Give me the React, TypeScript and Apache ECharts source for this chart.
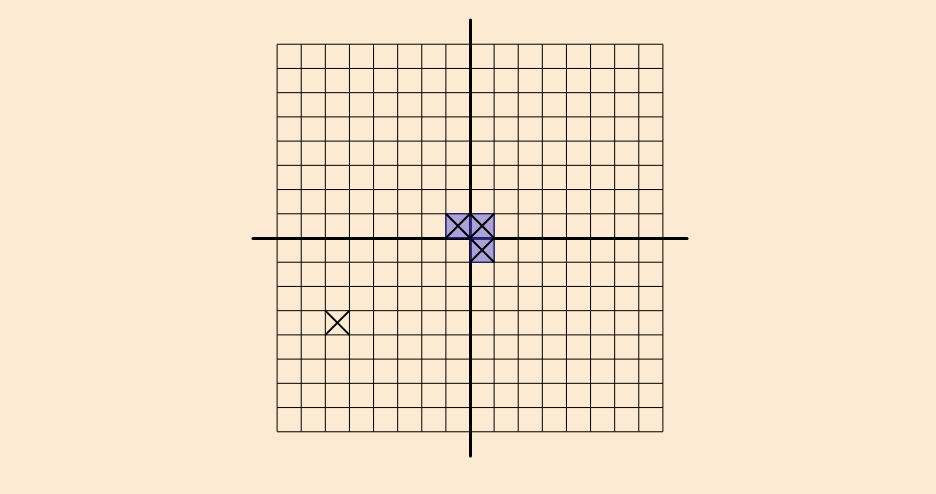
import React, { useEffect, useRef } from "react";
import * as echarts from "echarts";

// Grid line positions (cell boundaries)
const gridTicks = [-8, -7, -6, -5, -4, -3, -2, -1, 0, 1, 2, 3, 4, 5, 6, 7, 8];
// Lower-left corners of shaded cells
const filledCells = [
  [-1, 0],
  [0, 0],
  [0, -1],
];
// Lower-left corners of cells marked with a cross
const crossCells = [
  [-1, 0],
  [0, 0],
  [0, -1],
  [-6, -4],
];
const axisMin = -9;
const axisMax = 9;

export default function App() {
  const ref = useRef<HTMLDivElement>(null);
  useEffect(() => {
    if (!ref.current) return;
    const chart = echarts.init(ref.current, undefined, { renderer: "svg" });
    const gMin = gridTicks[0];
    const gMax = gridTicks[gridTicks.length - 1];
    chart.setOption({
      animation: false,
      backgroundColor: "#FCEAD2",
      grid: { left: 253, right: 249, top: 20, bottom: 38 },
      xAxis: {
        type: "value",
        min: axisMin,
        max: axisMax,
        axisLine: { show: true, onZero: true, lineStyle: { color: "#000", width: 3 } },
        axisTick: { show: false },
        axisLabel: { show: false },
        splitLine: { show: false },
      },
      yAxis: {
        type: "value",
        min: axisMin,
        max: axisMax,
        axisLine: { show: true, onZero: true, lineStyle: { color: "#000", width: 3 } },
        axisTick: { show: false },
        axisLabel: { show: false },
        splitLine: { show: false },
      },
      series: [
        {
          type: "custom",
          z: 1,
          silent: true,
          data: gridTicks.map((t) => [t]),
          renderItem: (params: any, api: any) => {
            const t = api.value(0);
            const v1 = api.coord([t, gMin]);
            const v2 = api.coord([t, gMax]);
            const h1 = api.coord([gMin, t]);
            const h2 = api.coord([gMax, t]);
            const style = { stroke: "#000", lineWidth: 1 };
            return {
              type: "group",
              children: [
                { type: "line", shape: { x1: v1[0], y1: v1[1], x2: v2[0], y2: v2[1] }, style },
                { type: "line", shape: { x1: h1[0], y1: h1[1], x2: h2[0], y2: h2[1] }, style },
              ],
            };
          },
        },
        {
          type: "custom",
          z: 2,
          silent: true,
          data: filledCells,
          renderItem: (params: any, api: any) => {
            const x = api.value(0);
            const y = api.value(1);
            const p1 = api.coord([x, y + 1]);
            const p2 = api.coord([x + 1, y]);
            return {
              type: "rect",
              shape: { x: p1[0], y: p1[1], width: p2[0] - p1[0], height: p2[1] - p1[1] },
              style: { fill: "rgba(90,90,220,0.5)", stroke: "#1a1a66", lineWidth: 1 },
            };
          },
        },
        {
          type: "custom",
          z: 3,
          silent: true,
          data: crossCells,
          renderItem: (params: any, api: any) => {
            const x = api.value(0);
            const y = api.value(1);
            const a = api.coord([x, y + 1]);
            const b = api.coord([x + 1, y]);
            const style = { stroke: "#000", lineWidth: 2 };
            return {
              type: "group",
              children: [
                { type: "line", shape: { x1: a[0], y1: a[1], x2: b[0], y2: b[1] }, style },
                { type: "line", shape: { x1: a[0], y1: b[1], x2: b[0], y2: a[1] }, style },
              ],
            };
          },
        },
      ],
    });
    return () => chart.dispose();
  }, []);
  return (
    <div
      ref={ref}
      style={{ position: "fixed", left: 0, top: 0, width: 936, height: 494 }}
    />
  );
}
